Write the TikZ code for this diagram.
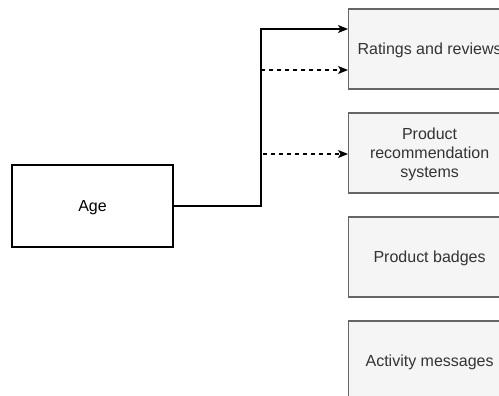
\documentclass[tikz,border=0pt]{standalone}
\usepackage{fontspec}
\setmainfont{Liberation Sans}
\usetikzlibrary{arrows.meta}
\definecolor{boxfill}{HTML}{F5F5F5}
\definecolor{boxline}{HTML}{666666}
\definecolor{boxtext}{HTML}{333333}
\tikzset{
  base/.style={font=\fontsize{16}{19}\selectfont, align=center, inner sep=0pt, text depth=0pt, line width=1.2pt},
  agebox/.style={base, draw=black, fill=white, minimum width=161pt, minimum height=82pt},
  itembox/.style={base, draw=boxline, fill=boxfill, text=boxtext, minimum width=162pt, minimum height=80pt, anchor=west},
  link/.style={line width=1.2pt, -{Stealth[length=10pt,width=8pt,inset=2.5pt]}},
  dashlink/.style={link, dash pattern=on 4pt off 4pt},
}
\begin{document}
\begin{tikzpicture}[x=1pt,y=-1pt]
  \useasboundingbox (0,0) rectangle (499,396);
  \clip (0,0) rectangle (499,396);
  % source box
  \node[agebox] (age) at (92.5,206) {Age};
  % target boxes
  \node[itembox] (rating) at (348,49) {Ratings and reviews};
  \node[itembox] (recsys) at (348,153) {Product\\recommendation\\systems};
  \node[itembox] (badges) at (348,257) {Product badges};
  \node[itembox] (activity) at (348,361) {Activity messages};
  % connectors
  \coordinate (bend) at (261,206);
  \coordinate (d1) at (261,70);
  \coordinate (d2) at (263,154);
  \draw[link] (age.east) -- (bend) |- ([yshift=20pt]rating.west);
  \draw[dashlink] (d1) -- (d1 -| rating.west);
  \draw[dashlink] (d2) -- (d2 -| recsys.west);
\end{tikzpicture}
\end{document}
